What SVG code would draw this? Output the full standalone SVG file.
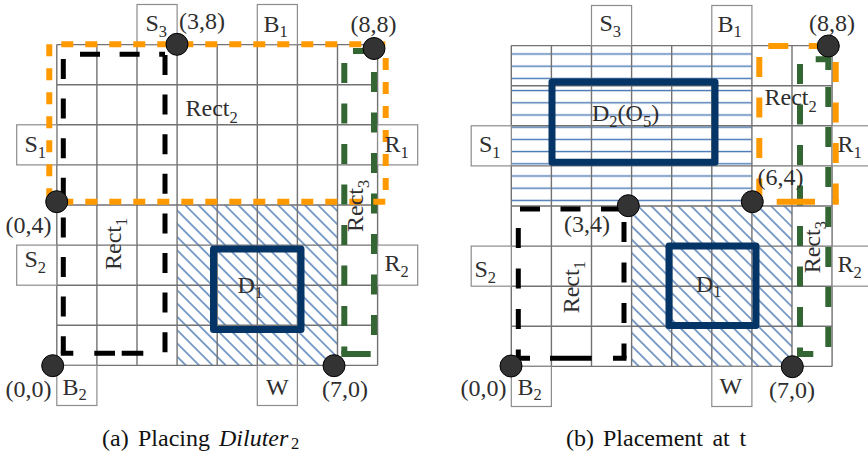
<svg xmlns="http://www.w3.org/2000/svg" width="868" height="457" viewBox="0 0 868 457">
  <defs>
    <!-- diagonal "\" hatching for occupied cells -->
    <pattern id="hatch-diag" patternUnits="userSpaceOnUse" width="9.4" height="9.4" patternTransform="rotate(-45)">
      <line x1="4.7" y1="0" x2="4.7" y2="9.4" stroke="#3468aa" stroke-width="1.25"/>
    </pattern>
    <!-- horizontal hatching for the reserved region -->
    <pattern id="hatch-horiz" patternUnits="userSpaceOnUse" width="20" height="12.2">
      <line x1="0" y1="5.2" x2="20" y2="5.2" stroke="#4677b4" stroke-width="1.4"/>
    </pattern>
    <style>
      .grid { fill: none; stroke: #727272; stroke-width: 1.4; }
      .port { fill: #fff; stroke: #8c8c8c; stroke-width: 1.2; }
      .module { fill: none; stroke: #053566; stroke-width: 7; stroke-linejoin: round; }
      .orange { fill: none; stroke: #ff9900; stroke-width: 6; }
      .green { fill: none; stroke: #336633; stroke-width: 6; }
      .black { fill: none; stroke: #000; stroke-width: 5; }
      .dash-s { stroke-dasharray: 12 12; }
      .dash-l { stroke-dasharray: 20 20.5; }
      .dash-k { stroke-dasharray: 20 19.6; }
      .dot { fill: #333; stroke: #000; stroke-width: 1; }
      text { font-family: "Liberation Serif", Tinos, "DejaVu Serif", "Noto Serif", "Times New Roman", serif; }
      .t { font-size: 24px; fill: #2e2e2e; }
      .s { font-size: 16.5px; }
      .cap { font-size: 24px; fill: #111; }
    </style>
  </defs>

  <rect x="0" y="0" width="868" height="457" fill="#fff"/>

  <!-- ================= (a) Placing Diluter2 ================= -->
  <g id="panel-a">
    <rect id="a-occupied" x="177.1" y="205" width="160.4" height="160.4" fill="url(#hatch-diag)"/>

    <path id="a-grid" class="grid" d="M56.8,44.6V365.4 M96.9,44.6V365.4 M137,44.6V365.4 M177.1,44.6V365.4 M217.2,44.6V365.4 M257.3,44.6V365.4 M297.4,44.6V365.4 M337.5,44.6V365.4 M377.6,44.6V365.4 M56.8,44.6H377.6 M56.8,84.7H377.6 M56.8,124.8H377.6 M56.8,164.9H377.6 M56.8,205H377.6 M56.8,245.1H377.6 M56.8,285.2H377.6 M56.8,325.3H377.6 M56.8,365.4H377.6"/>

    <g id="a-ports">
      <rect id="a-S3" class="port" x="137" y="4.5" width="40.1" height="40.1"/>
      <rect id="a-B1" class="port" x="257.3" y="4.5" width="40.1" height="40.1"/>
      <rect id="a-S1" class="port" x="16.7" y="124.8" width="40.1" height="40.1"/>
      <rect id="a-S2" class="port" x="16.7" y="245.1" width="40.1" height="40.1"/>
      <rect id="a-R1" class="port" x="377.6" y="124.8" width="40.1" height="40.1"/>
      <rect id="a-R2" class="port" x="377.6" y="245.1" width="40.1" height="40.1"/>
      <rect id="a-B2" class="port" x="56.8" y="365.4" width="40.1" height="40.1"/>
      <rect id="a-W" class="port" x="257.3" y="365.4" width="40.1" height="40.1"/>
    </g>

    <rect id="a-D1" class="module" x="213.5" y="249" width="87.5" height="80.5"/>

    <g id="a-rect3">
      <path class="green dash-l" d="M344.3,63V354 M374,72V354"/>
      <path class="green" d="M353,51H377 M341.3,354H370.7"/>
    </g>
    <g id="a-rect2">
      <path class="orange dash-s" d="M49.3,44.3V201.7 M61.3,44.3H385.7 M385.7,58V201.7 M61.3,201.7H385.7"/>
    </g>
    <g id="a-rect1">
      <path class="black dash-k" d="M63.3,59V353.3 M80,54.3H165 M165,55V353.3"/>
      <path class="black" d="M60.8,353.3H73.3 M94.3,353.3H115 M121.7,353.3H143.3"/>
    </g>

    <g id="a-corners">
      <circle class="dot" cx="177" cy="44.3" r="11"/>
      <circle class="dot" cx="374" cy="48.5" r="11"/>
      <circle class="dot" cx="56.7" cy="201.7" r="11"/>
      <circle class="dot" cx="52.7" cy="365.7" r="11"/>
      <circle class="dot" cx="334" cy="365.7" r="11"/>
    </g>

    <g id="a-labels">
      <text class="t" x="145.5" y="31">S<tspan class="s" dy="5.5">3</tspan></text>
      <text class="t" x="179" y="29">(3,8)</text>
      <text class="t" x="263.5" y="31.7">B<tspan class="s" dy="5">1</tspan></text>
      <text class="t" x="350.5" y="31.5">(8,8)</text>
      <text class="t" x="185.5" y="116">Rect<tspan class="s" dy="6.5">2</tspan></text>
      <text class="t" x="24.5" y="151.5">S<tspan class="s" dy="6">1</tspan></text>
      <text class="t" x="384.5" y="151.5">R<tspan class="s" dy="6">1</tspan></text>
      <text class="t" x="5.5" y="233">(0,4)</text>
      <text class="t" transform="translate(121,270) rotate(-90)">Rect<tspan class="s" dy="6">1</tspan></text>
      <text class="t" transform="translate(362.5,232) rotate(-90)">Rect<tspan class="s" dy="6">3</tspan></text>
      <text class="t" x="24.5" y="266.5">S<tspan class="s" dy="6">2</tspan></text>
      <text class="t" x="384.5" y="271">R<tspan class="s" dy="6">2</tspan></text>
      <text class="t" x="237.5" y="293">D<tspan class="s" dy="5">1</tspan></text>
      <text class="t" x="5.5" y="397">(0,0)</text>
      <text class="t" x="62.5" y="395">B<tspan class="s" dy="5">2</tspan></text>
      <text class="t" x="266" y="395">W</text>
      <text class="t" x="322" y="397">(7,0)</text>
    </g>

    <text id="a-caption" class="cap" y="446"><tspan x="102">(a)</tspan><tspan x="138">Placing</tspan><tspan x="219" font-style="italic">Diluter</tspan><tspan class="s" x="291" dy="3">2</tspan></text>
  </g>

  <!-- ================= (b) Placement at t ================= -->
  <g id="panel-b">
    <rect id="b-reserved" x="511.3" y="45.6" width="240.6" height="160.4" fill="url(#hatch-horiz)"/>
    <rect id="b-occupied" x="631.6" y="206" width="160.4" height="160.4" fill="url(#hatch-diag)"/>

    <path id="b-grid" class="grid" d="M511.3,45.6V366.4 M551.4,45.6V366.4 M591.5,45.6V366.4 M631.6,45.6V366.4 M671.7,45.6V366.4 M711.8,45.6V366.4 M751.9,45.6V366.4 M792,45.6V366.4 M832.1,45.6V366.4 M511.3,45.6H832.1 M511.3,85.7H832.1 M511.3,125.8H832.1 M511.3,165.9H832.1 M511.3,206H832.1 M511.3,246.1H832.1 M511.3,286.2H832.1 M511.3,326.3H832.1 M511.3,366.4H832.1"/>

    <g id="b-ports">
      <rect id="b-S3" class="port" x="591.5" y="5.5" width="40.1" height="40.1"/>
      <rect id="b-B1" class="port" x="711.8" y="5.5" width="40.1" height="40.1"/>
      <rect id="b-S1" class="port" x="471.2" y="125.8" width="40.1" height="40.1"/>
      <rect id="b-S2" class="port" x="471.2" y="246.1" width="40.1" height="40.1"/>
      <rect id="b-R1" class="port" x="832.1" y="125.8" width="40.1" height="40.1"/>
      <rect id="b-R2" class="port" x="832.1" y="246.1" width="40.1" height="40.1"/>
      <rect id="b-B2" class="port" x="511.3" y="366.4" width="40.1" height="40.1"/>
      <rect id="b-W" class="port" x="711.8" y="366.4" width="40.1" height="40.1"/>
    </g>

    <rect id="b-D2" class="module" x="552" y="82" width="163" height="80.3"/>
    <rect id="b-D1" class="module" x="669" y="246" width="87" height="79.5"/>

    <g id="b-rect3">
      <path class="green dash-l" d="M800,64V354"/>
      <path class="green" style="stroke-dasharray:20 20" d="M828.3,87V357"/>
      <path class="green" d="M815.7,59.3H831.3 M828.3,56.3V70 M797,354H813.3"/>
    </g>
    <g id="b-rect2">
      <path class="orange dash-l" d="M759.3,57V202 M768.3,46H828 M835.7,62V202"/>
      <path class="orange" d="M776.7,201.7H815 M832.7,201.7H838.7"/>
    </g>
    <g id="b-rect1">
      <path class="black dash-l" d="M520,209H624 M518.3,228V358.3 M624,222V358.3"/>
      <path class="black" d="M515.8,358.3H530 M550,358.3H591.7 M613,358.3H626.5"/>
    </g>

    <g id="b-corners">
      <circle class="dot" cx="828.3" cy="46" r="11"/>
      <circle class="dot" cx="752.3" cy="201.7" r="11"/>
      <circle class="dot" cx="628.3" cy="205.7" r="11"/>
      <circle class="dot" cx="511" cy="366" r="11"/>
      <circle class="dot" cx="792.3" cy="366.7" r="11"/>
    </g>

    <g id="b-labels">
      <text class="t" x="599.5" y="31">S<tspan class="s" dy="5.5">3</tspan></text>
      <text class="t" x="717.5" y="31.7">B<tspan class="s" dy="5">1</tspan></text>
      <text class="t" x="809" y="31">(8,8)</text>
      <text class="t" x="592" y="121">D<tspan class="s" dy="6">2</tspan><tspan dy="-6">(O</tspan><tspan class="s" dy="6">5</tspan><tspan dy="-6">)</tspan></text>
      <text class="t" x="479" y="151.7">S<tspan class="s" dy="6">1</tspan></text>
      <text class="t" x="764.5" y="105">Rect<tspan class="s" dy="6.5">2</tspan></text>
      <text class="t" x="837.5" y="151.7">R<tspan class="s" dy="6">1</tspan></text>
      <text class="t" x="757.5" y="185">(6,4)</text>
      <text class="t" x="564" y="232">(3,4)</text>
      <text class="t" x="474.5" y="277">S<tspan class="s" dy="6">2</tspan></text>
      <text class="t" transform="translate(579,313.3) rotate(-90)">Rect<tspan class="s" dy="6">1</tspan></text>
      <text class="t" x="696" y="291.7">D<tspan class="s" dy="5">1</tspan></text>
      <text class="t" transform="translate(819.5,273.3) rotate(-90)">Rect<tspan class="s" dy="6">3</tspan></text>
      <text class="t" x="837.5" y="271.7">R<tspan class="s" dy="6">2</tspan></text>
      <text class="t" x="460.5" y="396">(0,0)</text>
      <text class="t" x="517.5" y="395">B<tspan class="s" dy="5">2</tspan></text>
      <text class="t" x="719.5" y="394">W</text>
      <text class="t" x="769" y="398">(7,0)</text>
    </g>

    <text id="b-caption" class="cap" y="446"><tspan x="566">(b)</tspan><tspan x="603">Placement</tspan><tspan x="712.4">at</tspan><tspan x="739.6">t</tspan></text>
  </g>
</svg>
